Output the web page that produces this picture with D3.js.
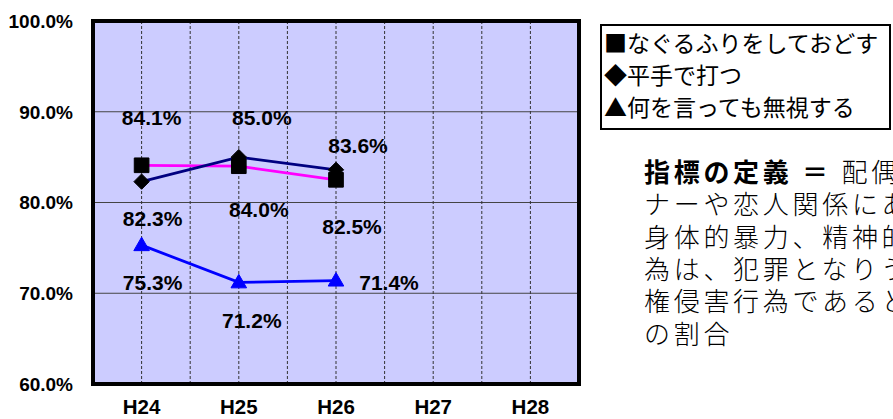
<!DOCTYPE html>
<html>
<head>
<meta charset="utf-8">
<script src="https://cdn.jsdelivr.net/npm/d3@7"></script>
<style>
  html, body { margin: 0; padding: 0; background: #fff; overflow: hidden; }
  svg { display: block; }
</style>
</head>
<body>
<svg id="chart" width="893" height="419"></svg>
<script>
// ---- data ----
const categories = ["H24", "H25", "H26", "H27", "H28"];
const seriesNames = ["なぐるふりをしておどす", "平手で打つ", "何を言っても無視する"];
const legendSymbols = ["■", "◆", "▲"];
const squareValues = [84.1, 84.0, 82.5];
const diamondValues = [82.3, 85.0, 83.6];
const triangleValues = [75.3, 71.2, 71.4];
const yTicks = [60, 70, 80, 90, 100];
const definitionTitle = "指標の定義 ＝ ";
const definitionLines = [
  "配偶者やパート",
  "ナーや恋人関係にある者から",
  "身体的暴力、精神的暴力など",
  "為は、犯罪となりうる重大な人",
  "権侵害行為であると認識している",
  "の割合"
];

// ---- layout ----
const svg = d3.select("#chart");
const plot = { left: 93, right: 579, top: 21, bottom: 384 };

const x = d3.scaleBand().domain(categories).range([plot.left, plot.right]).padding(0);
const xc = c => x(c) + x.bandwidth() / 2;
const y = d3.scaleLinear().domain([60, 100]).range([plot.bottom, plot.top]);

// background
svg.append("rect")
  .attr("x", plot.left).attr("y", plot.top)
  .attr("width", plot.right - plot.left).attr("height", plot.bottom - plot.top)
  .attr("fill", "#CCCCFF");

// horizontal gridlines
svg.append("g").selectAll("line").data(yTicks).join("line")
  .attr("x1", plot.left).attr("x2", plot.right)
  .attr("y1", d => y(d)).attr("y2", d => y(d))
  .attr("stroke", "#444").attr("stroke-width", 1.2);

// vertical dashed gridlines at category centers and boundaries
const vLines = [];
categories.forEach((c, i) => {
  vLines.push(xc(c));
  if (i > 0) vLines.push(x(c));
});
svg.append("g").selectAll("line").data(vLines).join("line")
  .attr("x1", d => d).attr("x2", d => d)
  .attr("y1", plot.top).attr("y2", plot.bottom)
  .attr("stroke", "#333").attr("stroke-width", 1)
  .attr("stroke-dasharray", "3,2");

// border
svg.append("rect")
  .attr("x", plot.left).attr("y", plot.top)
  .attr("width", plot.right - plot.left).attr("height", plot.bottom - plot.top)
  .attr("fill", "none").attr("stroke", "#000").attr("stroke-width", 4);

// y axis labels
svg.append("g").selectAll("text").data(yTicks).join("text")
  .attr("x", 73).attr("y", d => y(d) + 6.8)
  .attr("text-anchor", "end")
  .attr("font-family", "Liberation Sans, Arial, sans-serif")
  .attr("font-weight", "bold").attr("font-size", 19)
  .text(d => d.toFixed(1) + "%");

// x axis labels
svg.append("g").selectAll("text").data(categories).join("text")
  .attr("x", d => xc(d)).attr("y", 414)
  .attr("text-anchor", "middle")
  .attr("font-family", "Liberation Sans, Arial, sans-serif")
  .attr("font-weight", "bold").attr("font-size", 20.5)
  .text(d => d);

// series
const series = [
  { values: squareValues, color: "#FF00FF", marker: "square", markerFill: "#000",
    labelOff: [[10, -40], [20, 51], [16, 54]] },
  { values: diamondValues, color: "#000080", marker: "diamond", markerFill: "#000",
    labelOff: [[11, 44], [23, -32], [22, -17]] },
  { values: triangleValues, color: "#0000FF", marker: "triangle", markerFill: "#0000FF",
    labelOff: [[11, 45], [13, 46], [53, 9]] }
];

const line = d3.line().x(d => xc(d.c)).y(d => y(d.v));

series.forEach(s => {
  const pts = s.values.map((v, i) => ({ c: categories[i], v }));
  svg.append("path").datum(pts)
    .attr("d", line).attr("fill", "none")
    .attr("stroke", s.color).attr("stroke-width", 2.8);
});

const symbolType = { square: d3.symbolSquare, diamond: d3.symbolDiamond2, triangle: d3.symbolTriangle };
const symbolSize = { square: 215, diamond: 150, triangle: 105 };

series.forEach(s => {
  const pts = s.values.map((v, i) => ({ c: categories[i], v }));
  svg.append("g").selectAll("path").data(pts).join("path")
    .attr("transform", d => `translate(${xc(d.c)},${y(d.v) + (s.marker === "triangle" ? 1 : 0)})`)
    .attr("d", d3.symbol().type(symbolType[s.marker]).size(symbolSize[s.marker]))
    .attr("fill", s.markerFill)
    .attr("stroke", s.markerFill).attr("stroke-width", 1).attr("stroke-linejoin", "round");
});

series.forEach(s => {
  const pts = s.values.map((v, i) => ({ c: categories[i], v, off: s.labelOff[i] }));
  svg.append("g").selectAll("text").data(pts).join("text")
    .attr("x", d => xc(d.c) + d.off[0]).attr("y", d => y(d.v) + d.off[1])
    .attr("text-anchor", "middle")
    .attr("font-family", "Liberation Sans, Arial, sans-serif")
    .attr("font-weight", "bold").attr("font-size", 21)
    .text(d => d.v.toFixed(1) + "%");
});

// legend
const lg = svg.append("g");
lg.append("rect").attr("x", 601).attr("y", 25).attr("width", 289).attr("height", 104)
  .attr("fill", "#fff").attr("stroke", "#000").attr("stroke-width", 2);
lg.selectAll("text").data(seriesNames).join("text")
  .attr("x", 604).attr("y", (d, i) => 51.5 + i * 32)
  .attr("font-family", "Noto Sans CJK JP, sans-serif")
  .attr("font-size", 23)
  .text((d, i) => legendSymbols[i] + d);

// definition text (single text block, clipped by the window edge like the reference)
const def = svg.append("text")
  .attr("x", 644).attr("y", 182)
  .attr("font-family", "Noto Sans CJK JP, sans-serif")
  .attr("font-size", 26).attr("letter-spacing", 3.7);
def.append("tspan").attr("font-weight", "bold").text(definitionTitle);
def.append("tspan").attr("font-weight", 300).text(definitionLines[0]);
definitionLines.slice(1).forEach(l => {
  def.append("tspan").attr("x", 644).attr("dy", 32.3).attr("font-weight", 300).text(l);
});
</script>
</body>
</html>
